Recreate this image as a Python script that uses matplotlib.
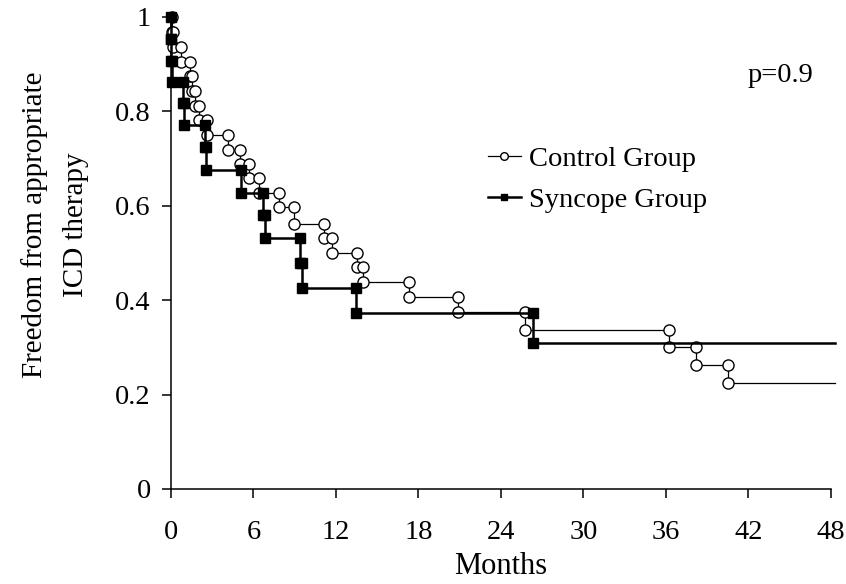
import matplotlib
matplotlib.use('Agg')
import matplotlib.pyplot as plt
from matplotlib.lines import Line2D

# ---- data ----
control_times = [0.10, 0.15, 0.70, 1.35, 1.55, 1.78, 2.05, 2.65, 4.14, 4.99, 5.71,
                 6.43, 7.83, 8.95, 11.10, 11.74, 13.55, 13.95, 17.33, 20.90, 25.75,
                 36.25, 38.18, 40.54]
control_surv = [0.968, 0.936, 0.905, 0.874, 0.843, 0.812, 0.782, 0.750, 0.718, 0.689,
                0.658, 0.627, 0.597, 0.562, 0.532, 0.500, 0.470, 0.439, 0.406, 0.374,
                0.337, 0.300, 0.263, 0.225]
syncope_times = [0.0, 0.0, 0.10, 0.87, 0.95, 2.46, 2.52, 5.11, 6.68, 6.85, 9.40,
                 9.55, 13.47, 26.30]
syncope_surv = [0.953, 0.907, 0.863, 0.817, 0.771, 0.725, 0.676, 0.628, 0.581, 0.531,
                0.478, 0.425, 0.372, 0.310]
follow_up_end = 48.3
x_ticks = [0, 6, 12, 18, 24, 30, 36, 42, 48]
y_ticks = [0, 0.2, 0.4, 0.6, 0.8, 1.0]
y_tick_labels = ['0', '0.2', '0.4', '0.6', '0.8', '1']
series_labels = ['Control Group', 'Syncope Group']
p_text = 'p=0.9'
x_label = 'Months'
y_label = 'Freedom from appropriate\nICD therapy'


def km_path(times, surv, end):
    xs, ys, mx, my = [0.0], [1.0], [], []
    prev = 1.0
    for t, s in zip(times, surv):
        xs += [t, t]
        ys += [prev, s]
        mx += [t, t]
        my += [prev, s]
        prev = s
    xs.append(end)
    ys.append(prev)
    return xs, ys, mx, my


plt.rcParams['font.family'] = ['Liberation Serif', 'DejaVu Serif']
FS = 20.5

fig = plt.figure(figsize=(8.46, 5.84), dpi=100)
ax = fig.add_axes([0.2021, 0.1627, 0.7801, 0.8082])

cx, cy, cmx, cmy = km_path(control_times, control_surv, follow_up_end)
sx, sy, smx, smy = km_path(syncope_times, syncope_surv, follow_up_end)

ax.plot(cx, cy, color='black', lw=0.9, clip_on=False, zorder=3)
ax.plot(cmx, cmy, ls='none', marker='o', ms=8, mfc='white', mec='black', mew=1.0,
        clip_on=False, zorder=4)
ax.plot(sx, sy, color='black', lw=1.8, clip_on=False, zorder=5)
ax.plot(smx, smy, ls='none', marker='s', ms=6.5, mfc='black', mec='black',
        clip_on=False, zorder=6)

ax.set_xlim(0, 48)
ax.set_ylim(0, 1)
ax.set_xticks(x_ticks)
ax.set_yticks(y_ticks)
ax.set_yticklabels(y_tick_labels)
for side in ['top', 'right']:
    ax.spines[side].set_visible(False)
for side in ['left', 'bottom']:
    ax.spines[side].set_linewidth(1.1)
ax.tick_params(axis='both', direction='out', length=6.5, width=1.1, labelsize=FS,
               colors='black')
ax.tick_params(axis='y', pad=8)
ax.tick_params(axis='x', pad=16)

xl = ax.set_xlabel(x_label, fontsize=FS + 1.5, labelpad=0)
xl.set_va('baseline')
ax.xaxis.set_label_coords(0.5, -0.181)
ax.set_ylabel(y_label, fontsize=FS + 0.5, linespacing=1.75)
ax.yaxis.set_label_coords(-0.124, 0.56)

ax.text(0.874, 0.877, p_text, transform=ax.transAxes, fontsize=FS,
        ha='left', va='center')

handles = [
    Line2D([], [], color='black', lw=0.9, marker='o', ms=5.5, mfc='white', mec='black'),
    Line2D([], [], color='black', lw=1.8, marker='s', ms=5, mfc='black', mec='black'),
]
ax.legend(handles, series_labels, loc='center left', bbox_to_anchor=(0.480, 0.656),
          frameon=False, fontsize=FS, handlelength=1.15, handletextpad=0.3,
          labelspacing=0.55, borderpad=0, borderaxespad=0)

fig.savefig('out.png', dpi=100)
